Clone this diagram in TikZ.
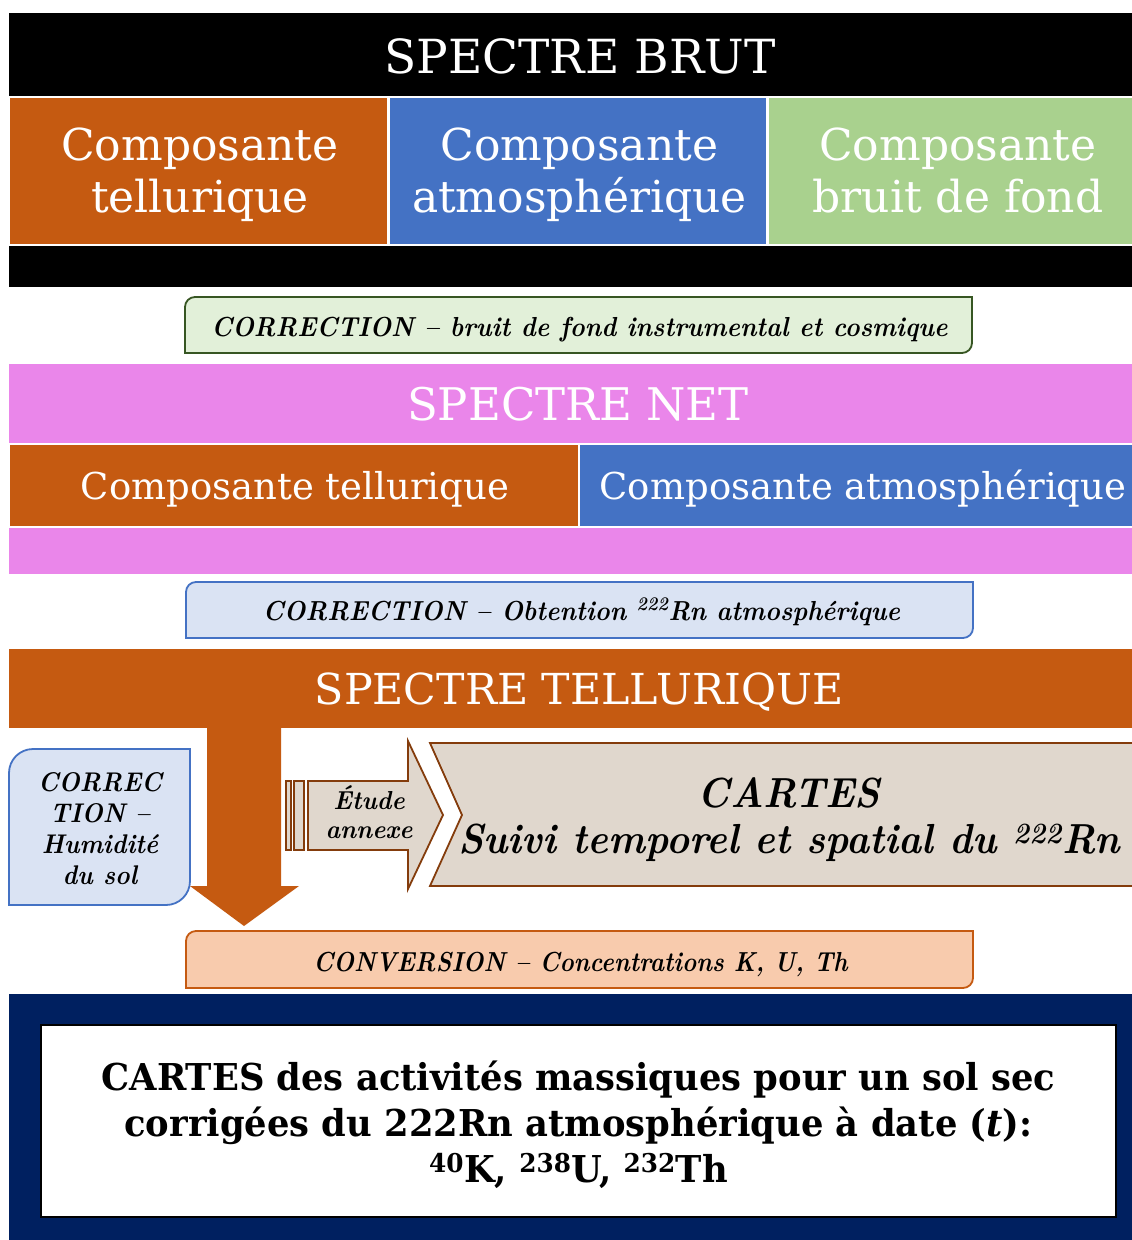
\documentclass[tikz,border=0pt]{standalone}
\usepackage{graphicx}
\usepackage{fontspec}
\newfontfamily\dvs{DejaVu Serif}
\definecolor{orC}{HTML}{C55A11}
\definecolor{blC}{HTML}{4472C4}
\definecolor{grC}{HTML}{A9D18E}
\definecolor{pkC}{HTML}{EA86EA}
\definecolor{lgC}{HTML}{E2F0D9}
\definecolor{dgC}{HTML}{375623}
\definecolor{lbC}{HTML}{DAE3F3}
\definecolor{peC}{HTML}{F8CBAD}
\definecolor{tnC}{HTML}{E0D7CD}
\definecolor{brC}{HTML}{843C0C}
\definecolor{nvC}{HTML}{002060}
\newcommand\sqz[2]{\scalebox{#1}[1]{\begin{tabular}[t]{@{}c@{}}#2\end{tabular}}}
\newcommand\fsz[2]{\fontsize{#1}{#2}\selectfont}
\newcommand\rdiag[3]{\path[#3] (#1.west) [rounded corners=#2] -- (#1.north west) -- (#1.north) [sharp corners] -- (#1.north east) -- (#1.east) [rounded corners=#2] -- (#1.south east) -- (#1.south) [sharp corners] -- (#1.south west) -- cycle;}
\begin{document}
\begin{tikzpicture}[x=1pt,y=-1pt,
  blk/.style={rectangle, inner sep=0pt, outer sep=0pt, anchor=north west},
  ttl/.style={text=white, inner sep=0pt, anchor=base},
  wbig/.style={text=white, inner sep=0pt, anchor=base, font=\dvs\fsz{44}{52}},
  wmid/.style={text=white, inner sep=0pt, anchor=base, font=\dvs\fsz{37}{40}},
  corr/.style={inner sep=0pt, anchor=base, font=\bfseries\itshape\fsz{27.5}{30}},
  sep/.style={draw=white, line width=1.5pt},
  tan/.style={fill=tnC, draw=brC, line width=1.8pt}
]
\fill[white] (0,0) rectangle (1132,1240);
\useasboundingbox (0,0) rectangle (1132,1240);

% SPECTRE BRUT
\node[blk, fill=black, minimum width=1123pt, minimum height=274pt] (brut) at (9,13) {};
\node[ttl, font=\dvs\fsz{47}{47}] (brutT) at (580,73) {\sqz{1}{SPECTRE BRUT}};
\node[blk, sep, fill=orC, minimum width=379pt, minimum height=148pt] (b1) at (9,97) {};
\node[blk, sep, fill=blC, minimum width=378pt, minimum height=148pt] (b2) at (389,97) {};
\node[blk, sep, fill=grC, minimum width=375pt, minimum height=148pt] (b3) at (768,97) {};
\node[wbig] (b1T) at (200,160) {\sqz{1}{Composante\\tellurique}};
\node[wbig] (b2T) at (579.5,160) {\sqz{1}{Composante\\atmosphérique}};
\node[wbig] (b3T) at (958,160) {\sqz{1}{Composante\\bruit de fond}};

% Correction 1
\node[blk, minimum width=787pt, minimum height=56pt] (c1) at (185,297) {};
\rdiag{c1}{10pt}{fill=lgC, draw=dgC, line width=1.8pt}
\node[corr] (c1T) at (579.5,336) {\sqz{0.92}{CORRECTION – bruit de fond instrumental et cosmique}};

% SPECTRE NET
\node[blk, fill=pkC, minimum width=1123pt, minimum height=210pt] (net) at (9,364) {};
\node[ttl, font=\dvs\fsz{45}{45}] (netT) at (578,420) {\sqz{1}{SPECTRE NET}};
\node[blk, sep, fill=orC, minimum width=570pt, minimum height=83pt] (n1) at (9,444) {};
\node[blk, sep, fill=blC, minimum width=565pt, minimum height=83pt] (n2) at (579,444) {};
\node[wmid] (n1T) at (295,499) {\sqz{1}{Composante tellurique}};
\node[wmid] (n2T) at (863,499) {\sqz{1}{Composante atmosphérique}};

% Correction 2
\node[blk, minimum width=787pt, minimum height=56pt] (c2) at (186,582) {};
\rdiag{c2}{10pt}{fill=lbC, draw=blC, line width=1.8pt}
\node[corr] (c2T) at (581.5,620) {\sqz{0.92}{CORRECTION – Obtention \textsuperscript{222}Rn atmosphérique}};

% SPECTRE TELLURIQUE
\node[blk, fill=orC, minimum width=1123pt, minimum height=79pt] (tell) at (9,649) {};
\node[ttl, font=\dvs\fsz{42.7}{43}] (tellT) at (579,704) {\sqz{1}{SPECTRE TELLURIQUE}};

% Correction humidite
\node[blk, minimum width=181pt, minimum height=156pt] (hum) at (9,749) {};
\rdiag{hum}{24pt}{fill=lbC, draw=blC, line width=1.8pt}
\node[corr, font=\bfseries\itshape\fsz{27}{31}] (humT) at (100,791) {\sqz{0.92}{CORREC\\TION –\\Humidité\\du sol}};

% Conversion
\node[blk, minimum width=787pt, minimum height=57pt] (conv) at (186,931) {};
\rdiag{conv}{10pt}{fill=peC, draw=orC, line width=1.8pt}
\node[corr] (convT) at (580.5,971) {\sqz{0.88}{CONVERSION – Concentrations K, U, Th}};

% down arrow from SPECTRE TELLURIQUE to CONVERSION
\coordinate (tip) at (244,926);
\fill[orC] (207,727) -- (207,886) -- (190,886) -- (tip) -- (299,886) -- (281,886) -- (281,727) -- cycle;

% Etude annexe arrow
\draw[tan, line width=1.5pt] (286,781) rectangle (291,850);
\draw[tan, line width=1.5pt] (294,781) rectangle (304,850);
\draw[tan] (308,781) -- (408,781) -- (408,741) -- (443,815) -- (408,889) -- (408,850) -- (308,850) -- cycle;
\node[corr, font=\bfseries\itshape\fsz{26}{29}] (etudeT) at (369,809) {\sqz{0.95}{Étude\\annexe}};

% CARTES chevron
\draw[tan] (430,743) -- (1140,743) -- (1140,886) -- (430,886) -- (462,815) -- cycle;
\node[corr, font=\bfseries\itshape\fsz{42}{46}] (cartesT) at (789,807) {\sqz{0.93}{CARTES\\Suivi temporel et spatial du \textsuperscript{222}Rn}};

% Final maps
\node[blk, fill=nvC, minimum width=1130pt, minimum height=256pt] (navy) at (9,994) {};
\node[blk, fill=white, draw=black, line width=2pt, minimum width=1075pt, minimum height=192pt] (fin) at (41,1025) {};
\node[inner sep=0pt, anchor=base, font=\dvs\bfseries\fsz{37}{46}] (finT) at (578.5,1090) {\sqz{0.955}{CARTES des activités massiques pour un sol sec\\corrigées du 222Rn atmosphérique à date ({\itshape t}):\\\textsuperscript{40}K, \textsuperscript{238}U, \textsuperscript{232}Th}};
\end{tikzpicture}
\end{document}
